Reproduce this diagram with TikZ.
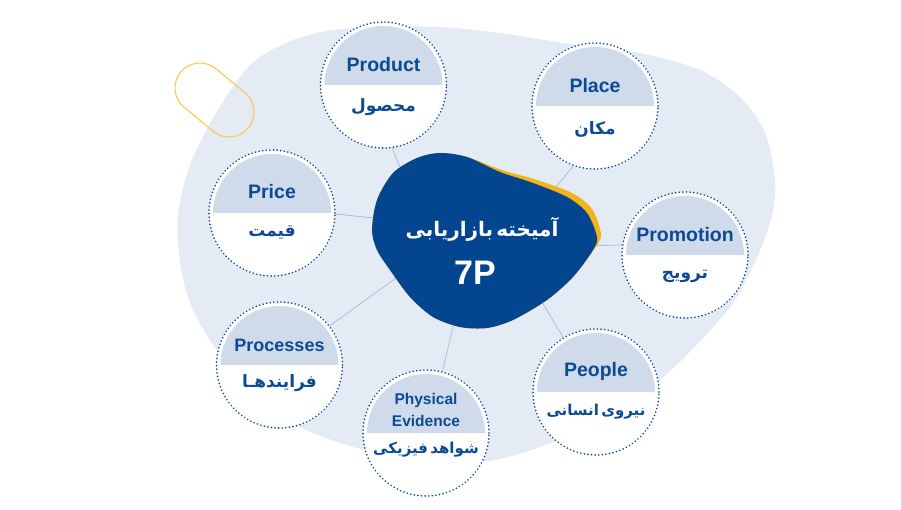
\documentclass[tikz,border=0pt]{standalone}
\usepackage{fontspec}
\setmainfont{Liberation Sans}
\newfontfamily\fafont[Script=Arabic,WordSpace=0.45]{DejaVu Sans}
\TeXXeTstate=1
\usetikzlibrary{positioning,backgrounds}
\definecolor{navy}{HTML}{03468F}
\definecolor{inkblue}{HTML}{0C4A93}
\definecolor{haze}{HTML}{E4EBF4}
\definecolor{bandblue}{HTML}{CFDBEA}
\definecolor{linkblue}{HTML}{A9BFDC}
\definecolor{gold}{HTML}{F2B515}
\definecolor{pillgold}{HTML}{F6CA4C}
\tikzset{x=1pt,y=-1pt,
  pcircle/.style={circle,minimum size=126pt,inner sep=0pt,fill=white,draw=navy,
    line width=1.8pt,line cap=round,dash pattern=on 0.01pt off 3.6pt},
  band/.style={fill=bandblue},
  link/.style={draw=linkblue,line width=.8pt},
  title/.style={text=inkblue,font=\fontsize{19.5}{21}\selectfont\bfseries},
  fa/.style={text=inkblue,font=\fontsize{17}{20}\selectfont\fafont\bfseries}}

\begin{document}
\begin{tikzpicture}
\useasboundingbox (0,0) rectangle (901,510);

\fill[gold] plot[smooth cycle] coordinates {(372,230) (377,200) (393,173) (417,158) (440,153) (467,157)
  (502,170) (537,180) (572,193) (592,209) (601,235) (593,251) (573,277) (547,300) (513,320) (487,328)
  (460,327) (433,317) (410,297) (390,270) (377,250)};
\fill[navy] plot[smooth cycle] coordinates {(372,230) (377,200) (393,173) (417,158) (440,153) (467,157)
  (500,172) (533,183) (567,197) (587,213) (597,237) (593,250) (573,277) (547,300) (513,320) (487,328)
  (460,327) (433,317) (410,297) (390,270) (377,250)};
\node[text=white,font=\fontsize{20}{24}\selectfont\fafont\bfseries] (mixFa) at (482,229) {\beginR آمیخته بازاریابی\endR};
\node[text=white,font=\fontsize{34}{38}\selectfont\bfseries] (mixP) at (475,273) {7P};

\begin{scope}[shift={(214.5,100)},rotate=-39.6]
\draw[pillgold,line width=1.1pt,rounded corners=24.9pt] (-43.8,-25) rectangle (43.8,25);
\end{scope}

\node[pcircle] (prod) at (383.5,85) {};
\fill[band] ([xshift=-59pt]prod.center) arc[start angle=180,end angle=0,radius=59pt] -- cycle;
\node[title] (prodT) at ([yshift=20pt]prod.center) {Product};
\node[fa] (prodF) at ([yshift=-22pt]prod.center) {\beginR محصول\endR};

\node[pcircle] (plac) at (595,106) {};
\fill[band] ([xshift=-59pt]plac.center) arc[start angle=180,end angle=0,radius=59pt] -- cycle;
\node[title] (placT) at ([yshift=20pt]plac.center) {Place};
\node[fa] (placF) at ([yshift=-23pt]plac.center) {\beginR مکان\endR};

\node[pcircle] (pric) at (272,213) {};
\fill[band] ([xshift=-59pt]pric.center) arc[start angle=180,end angle=0,radius=59pt] -- cycle;
\node[title] (pricT) at ([yshift=21pt]pric.center) {Price};
\node[fa] (pricF) at ([yshift=-20pt]pric.center) {\beginR قیمت\endR};

\node[pcircle] (prom) at (685,255) {};
\fill[band] ([xshift=-59pt]prom.center) arc[start angle=180,end angle=0,radius=59pt] -- cycle;
\node[title] (promT) at ([yshift=20pt]prom.center) {Promotion};
\node[fa] (promF) at ([yshift=-21pt]prom.center) {\beginR ترویج\endR};

\node[pcircle] (proc) at (279.5,365) {};
\fill[band] ([xshift=-59pt]proc.center) arc[start angle=180,end angle=0,radius=59pt] -- cycle;
\node[title,font=\fontsize{18}{20}\selectfont\bfseries] (procT) at ([yshift=20pt]proc.center) {Processes};
\node[fa] (procF) at ([yshift=-18pt]proc.center) {\beginR فرایندهـا\endR};

\node[pcircle] (phys) at (426,433) {};
\fill[band] ([xshift=-59pt]phys.center) arc[start angle=180,end angle=0,radius=59pt] -- cycle;
\node[title,font=\fontsize{15.5}{22}\selectfont\bfseries,align=center] (physT) at ([yshift=23pt]phys.center) {Physical\\Evidence};
\node[fa,font=\fontsize{15}{18}\selectfont\fafont\bfseries] (physF) at ([yshift=-17pt]phys.center) {\beginR شواهد فیزیکی\endR};

\node[pcircle] (peop) at (596,392) {};
\fill[band] ([xshift=-59pt]peop.center) arc[start angle=180,end angle=0,radius=59pt] -- cycle;
\node[title] (peopT) at ([yshift=21pt]peop.center) {People};
\node[fa,font=\fontsize{15}{18}\selectfont\fafont\bfseries] (peopF) at ([yshift=-20pt]peop.center) {\beginR نیروی انسانی\endR};

\coordinate (jProd) at (412,198);\coordinate (jPlac) at (538,209);\coordinate (jPric) at (395,220);
\coordinate (jProm) at (575,246);\coordinate (jProc) at (410,268);\coordinate (jPhys) at (458,305);
\coordinate (jPeop) at (533,287);

\begin{scope}[on background layer]
\fill[white] (0,0) rectangle (901,510);
\fill[haze] plot[smooth cycle] coordinates {(178,215) (180,262) (190,303) (213,345) (250,392) (300,427)
  (357,448) (420,460) (487,461) (540,447) (600,420) (660,380) (703,338) (735,300) (758,255) (772,215)
  (775,180) (765,133) (740,97) (700,70) (640,53) (570,44) (500,33) (440,27) (380,27) (327,31) (288,42)
  (250,65) (215,115) (190,165)};
\draw[link] (prod.-82) -- (jProd);\draw[link] (plac.-110.7) -- (jPlac);\draw[link] (pric.-1) -- (jPric);
\draw[link] (prom.171.9) -- (jProm);\draw[link] (proc.38.4) -- (jProc);\draw[link] (phys.75.3) -- (jPhys);
\draw[link] (peop.121) -- (jPeop);
\end{scope}
\end{tikzpicture}
\end{document}
